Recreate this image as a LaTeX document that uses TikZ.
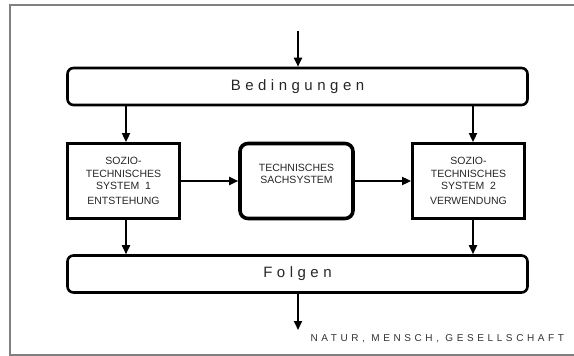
\documentclass[tikz,border=0pt]{standalone}
\usepackage{xcolor}
\usepackage{fontspec}
\setmainfont{Liberation Sans}
\newfontfamily\spacedfont[LetterSpace=30]{Liberation Sans}
\newfontfamily\notefont[LetterSpace=36]{Liberation Sans}
\usepackage{tikz}
\usetikzlibrary{arrows.meta, positioning, calc}
\definecolor{framecolor}{RGB}{128,128,128}
\definecolor{flowcolor}{RGB}{0,0,0}

\begin{document}
\begin{tikzpicture}[
    x=1pt, y=-1pt,
    bar/.style={draw, line width=2.6pt, rounded corners=6pt, minimum width=460pt, minimum height=37pt, inner sep=0pt, font=\fontsize{15}{18}\selectfont\spacedfont, text=black!85},
    sysbox/.style={draw, line width=2.8pt, minimum width=112pt, minimum height=75pt, inner sep=0pt, align=center, font=\fontsize{10.5}{12.5}\selectfont, text=black!85},
    sachbox/.style={sysbox, line width=3.6pt, rounded corners=8pt, minimum width=113pt},
    arrow/.style={-{Triangle[length=9pt, width=8pt]}, line width=1.8pt, flowcolor},
    note/.style={anchor=west, font=\fontsize{10}{12}\selectfont\notefont, text=black!80}
]
    \useasboundingbox (0,0) rectangle (574,356);
    % Frame
    \draw[framecolor, line width=1.2pt] (574,5) -- (10,5) -- (10,355) -- (574,355);

    % Bars
    \node[bar] (bed) at (297.5,86.5) {Bedingungen};
    \node[bar] (fol) at (297.5,274) {Folgen};

    % Systems
    \node[sysbox] (sts1) at (123.5,181) {SOZIO-\\TECHNISCHES\\SYSTEM\ \ 1\\[2pt]ENTSTEHUNG};
    \node[sachbox] (sach) at (296.5,181) {TECHNISCHES\\SACHSYSTEM\\[2pt]};
    \node[sysbox] (sts2) at (468.5,181) {SOZIO-\\TECHNISCHES\\SYSTEM\ \ 2\\[2pt]VERWENDUNG};

    % Flow
    \coordinate (in) at (298,31);
    \coordinate (out) at (298,330);
    \coordinate (c1) at (126,0);
    \coordinate (c2) at (473,0);
    \draw[arrow] (in) -- (bed.north -| in);
    \draw[arrow] (bed.south -| c1) -- (sts1.north -| c1);
    \draw[arrow] (bed.south -| c2) -- (sts2.north -| c2);
    \draw[arrow] (sts1.east) -- (sach.west);
    \draw[arrow] (sach.east) -- (sts2.west);
    \draw[arrow] (sts1.south -| c1) -- (fol.north -| c1);
    \draw[arrow] (sts2.south -| c2) -- (fol.north -| c2);
    \draw[arrow] (fol.south -| out) -- (out);

    % Annotation
    \node[note] (env) at (307,339) {NATUR, MENSCH, GESELLSCHAFT};
\end{tikzpicture}
\end{document}
